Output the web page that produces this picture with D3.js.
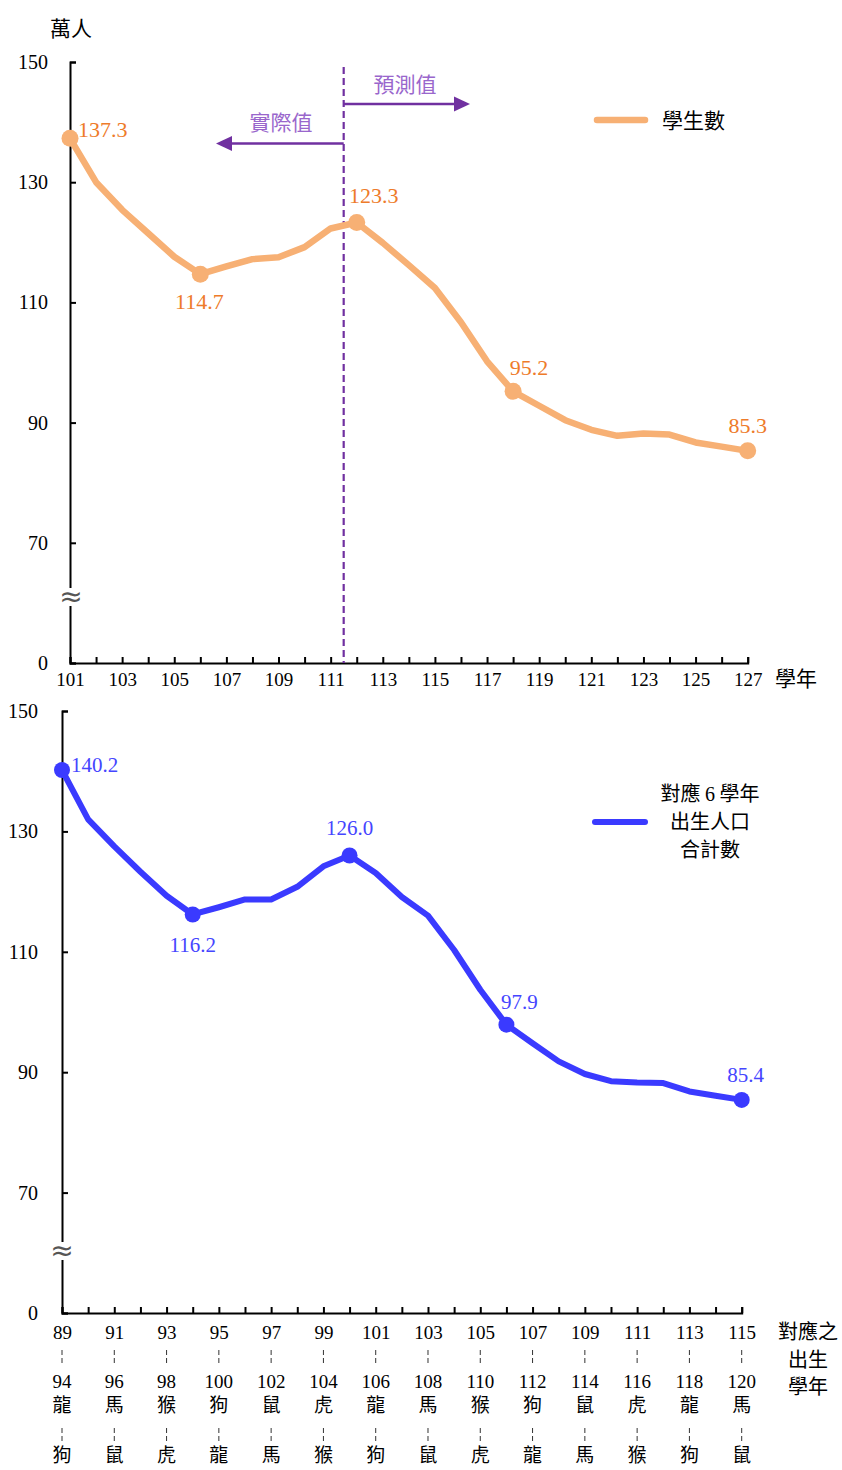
<!DOCTYPE html>
<html><head><meta charset="utf-8">
<script src="https://cdn.jsdelivr.net/npm/d3@7"></script>
<style>
body{margin:0;background:#fff;}
svg{display:block;font-family:"Liberation Serif","Times New Roman","Noto Sans CJK TC",serif;}
</style></head>
<body>
<svg id="c" width="842" height="1470"></svg>
<script>
// ---------- data ----------
const topYears = [101,102,103,104,105,106,107,108,109,110,111,112,113,114,115,116,117,118,119,120,121,122,123,124,125,126,127];
const topValues = [137.3,130.0,125.4,121.5,117.6,114.7,116.0,117.2,117.5,119.2,122.3,123.3,119.9,116.2,112.4,106.7,100.2,95.2,92.8,90.4,88.8,87.8,88.2,88.0,86.7,86.0,85.3];
const topLabelYears = [101,106,112,118,127];

const botYears = [89,90,91,92,93,94,95,96,97,98,99,100,101,102,103,104,105,106,107,108,109,110,111,112,113,114,115];
const botValues = [140.2,132.0,127.5,123.3,119.3,116.2,117.4,118.7,118.7,120.8,124.2,126.0,123.1,119.1,116.0,110.3,103.7,97.9,94.8,91.8,89.7,88.5,88.3,88.2,86.8,86.1,85.4];
const botLabelYears = [89,94,100,106,115];

const yTickValues = [50,70,90,110,130,150];   // 50 is drawn as the "0" below the axis break
const yTickLabels = ["0","70","90","110","130","150"];

const botTickLabels = [89,91,93,95,97,99,101,103,105,107,109,111,113,115];
const botTickLabels2 = [94,96,98,100,102,104,106,108,110,112,114,116,118,120];
const zodiac1 = ["龍","馬","猴","狗","鼠","虎","龍","馬","猴","狗","鼠","虎","龍","馬"];
const zodiac2 = ["狗","鼠","虎","龍","馬","猴","狗","鼠","虎","龍","馬","猴","狗","鼠"];

const forecastStart = 111.5;

// ---------- styles ----------
const orangeLine = "#F7B074", orangeText = "#EE7B2A";
const blueLine = "#3A3AFF", blueText = "#4545FF";
const purple = "#7030A0", purpleText = "#9966CC";

const svg = d3.select("#c");

function drawAxes(g, x, y, xTicksAll, opts){
  const ya = d3.axisLeft(y).tickValues(yTickValues)
    .tickFormat((d,i)=>yTickLabels[i]).tickSize(-6).tickPadding(opts.yPad);
  const gy = g.append("g").attr("transform",`translate(${x.range()[0]},0)`).call(ya);
  gy.select(".domain").attr("stroke","#000").attr("stroke-width",2);
  gy.selectAll(".tick line").attr("stroke","#000").attr("stroke-width",2);
  gy.selectAll(".tick text").attr("font-size",20).attr("fill","#000")
    .attr("font-family","Liberation Serif");
  const xa = d3.axisBottom(x).tickValues(xTicksAll).tickSize(-6).tickPadding(opts.xPad)
    .tickFormat(d => opts.xLabel(d));
  const gx = g.append("g").attr("transform",`translate(0,${y.range()[0]})`).call(xa);
  gx.select(".domain").attr("stroke","#000").attr("stroke-width",2);
  gx.selectAll(".tick line").attr("stroke","#000").attr("stroke-width",2);
  gx.selectAll(".tick text").attr("font-size",19).attr("fill","#000")
    .attr("font-family","Liberation Serif");
  const by = opts.breakY;
  g.append("rect").attr("x",x.range()[0]-4).attr("y",by-9).attr("width",8).attr("height",18).attr("fill","#fff");
  g.append("text").attr("x",x.range()[0]+opts.breakDx).attr("y",by+9).attr("text-anchor","middle")
    .attr("font-size",28).attr("fill","#555").attr("font-family","DejaVu Sans").text("≈");
}

// ================= TOP CHART =================
const gt = svg.append("g");
const xT = d3.scaleLinear().domain([101,127]).range([70,747.7]);
const yT = d3.scaleLinear().domain([50,150]).range([663,62]);

drawAxes(gt, xT, yT, topYears, {yPad:22, xPad:10, xLabel: d => (d%2===1? d : ""), breakY:597, breakDx:1});

gt.append("line").attr("x1",xT(forecastStart)).attr("x2",xT(forecastStart))
  .attr("y1",67).attr("y2",yT(50)).attr("stroke",purple).attr("stroke-width",2.2)
  .attr("stroke-dasharray","7,4");

function arrow(g, x1, x2, yy){
  const dir = Math.sign(x2-x1);
  g.append("line").attr("x1",x1).attr("x2",x2-dir*15).attr("y1",yy).attr("y2",yy)
    .attr("stroke",purple).attr("stroke-width",2.5);
  g.append("path").attr("d",`M${x2},${yy} L${x2-dir*16},${yy-7.5} L${x2-dir*16},${yy+7.5} Z`).attr("fill",purple);
}
const xs = xT(forecastStart);
arrow(gt, xs, 470, 104);
arrow(gt, xs, 216, 143.5);
gt.append("text").attr("x",405).attr("y",92).attr("text-anchor","middle").attr("font-size",21)
  .attr("fill",purpleText).attr("font-family","Noto Sans CJK TC").text("預測值");
gt.append("text").attr("x",281).attr("y",130).attr("text-anchor","middle").attr("font-size",21)
  .attr("fill",purpleText).attr("font-family","Noto Sans CJK TC").text("實際值");

const topData = topYears.map((d,i)=>({x:d,v:topValues[i]}));
gt.append("path").datum(topData)
  .attr("d", d3.line().x(d=>xT(d.x)).y(d=>yT(d.v)))
  .attr("fill","none").attr("stroke",orangeLine).attr("stroke-width",6.5).attr("stroke-linejoin","round");
const topLab = topData.filter(d=>topLabelYears.includes(d.x));
gt.selectAll("circle.t").data(topLab).join("circle")
  .attr("cx",d=>xT(d.x)).attr("cy",d=>yT(d.v)).attr("r",8.5).attr("fill",orangeLine);
const topOff = [[8,-1,"start"],[-1,35,"middle"],[17,-19,"middle"],[16,-16,"middle"],[0,-18,"middle"]];
gt.selectAll("text.tl").data(topLab).join("text")
  .attr("x",(d,i)=>xT(d.x)+topOff[i][0]).attr("y",(d,i)=>yT(d.v)+topOff[i][1])
  .attr("text-anchor",(d,i)=>topOff[i][2]).attr("font-size",22).attr("fill",orangeText)
  .text(d=>d.v.toFixed(1));

gt.append("text").attr("x",71).attr("y",36).attr("text-anchor","middle").attr("font-size",21)
  .attr("font-family","Noto Sans CJK TC").text("萬人");
gt.append("text").attr("x",796).attr("y",686).attr("text-anchor","middle").attr("font-size",21)
  .attr("font-family","Noto Sans CJK TC").text("學年");
gt.append("line").attr("x1",597).attr("x2",645).attr("y1",120).attr("y2",120)
  .attr("stroke",orangeLine).attr("stroke-width",6.5).attr("stroke-linecap","round");
gt.append("text").attr("x",662).attr("y",128).attr("font-size",21)
  .attr("font-family","Noto Sans CJK TC").text("學生數");

// ================= BOTTOM CHART =================
const gb = svg.append("g");
const xB = d3.scaleLinear().domain([89,115]).range([62,741.7]);
const yB = d3.scaleLinear().domain([50,150]).range([1313,711]);

drawAxes(gb, xB, yB, botYears, {yPad:24, xPad:12.5, xLabel: d => (d%2===1? d : ""), breakY:1251, breakDx:0});

const rows = gb.append("g").attr("font-size",20).attr("text-anchor","middle");
botTickLabels.forEach((yr,i)=>{
  const cx = xB(yr);
  rows.append("line").attr("x1",cx).attr("x2",cx).attr("y1",1350).attr("y2",1363)
    .attr("stroke","#333").attr("stroke-width",1).attr("stroke-dasharray","5,3");
  rows.append("text").attr("x",cx).attr("y",1388).attr("font-size",19).text(botTickLabels2[i]);
  rows.append("text").attr("x",cx).attr("y",1412).attr("font-size",19).attr("font-family","Noto Sans CJK TC").text(zodiac1[i]);
  rows.append("line").attr("x1",cx).attr("x2",cx).attr("y1",1428).attr("y2",1441)
    .attr("stroke","#333").attr("stroke-width",1).attr("stroke-dasharray","5,3");
  rows.append("text").attr("x",cx).attr("y",1462).attr("font-size",19).attr("font-family","Noto Sans CJK TC").text(zodiac2[i]);
});
const rl = gb.append("g").attr("font-size",20).attr("text-anchor","middle").attr("font-family","Noto Sans CJK TC");
rl.append("text").attr("x",808).attr("y",1339).text("對應之");
rl.append("text").attr("x",808).attr("y",1367).text("出生");
rl.append("text").attr("x",808).attr("y",1394).text("學年");

const botData = botYears.map((d,i)=>({x:d,v:botValues[i]}));
gb.append("path").datum(botData)
  .attr("d", d3.line().x(d=>xB(d.x)).y(d=>yB(d.v)))
  .attr("fill","none").attr("stroke",blueLine).attr("stroke-width",6).attr("stroke-linejoin","round");
const botLab = botData.filter(d=>botLabelYears.includes(d.x));
gb.selectAll("circle.b").data(botLab).join("circle")
  .attr("cx",d=>xB(d.x)).attr("cy",d=>yB(d.v)).attr("r",8).attr("fill",blueLine);
const botOff = [[9,2,"start"],[0,38,"middle"],[0,-20,"middle"],[13,-16,"middle"],[4,-18,"middle"]];
gb.selectAll("text.bl").data(botLab).join("text")
  .attr("x",(d,i)=>xB(d.x)+botOff[i][0]).attr("y",(d,i)=>yB(d.v)+botOff[i][1])
  .attr("text-anchor",(d,i)=>botOff[i][2]).attr("font-size",21).attr("fill",blueText)
  .text(d=>d.v.toFixed(1));

gb.append("line").attr("x1",595).attr("x2",645).attr("y1",822).attr("y2",822)
  .attr("stroke",blueLine).attr("stroke-width",6).attr("stroke-linecap","round");
const lg = gb.append("g").attr("font-size",20).attr("text-anchor","middle").attr("font-family","Noto Sans CJK TC");
const t1 = lg.append("text").attr("x",710).attr("y",801);
t1.append("tspan").text("對應 ");
t1.append("tspan").attr("font-family","Liberation Serif").text("6");
t1.append("tspan").text(" 學年");
lg.append("text").attr("x",710).attr("y",829).text("出生人口");
lg.append("text").attr("x",710).attr("y",857).text("合計數");
</script>
</body></html>
